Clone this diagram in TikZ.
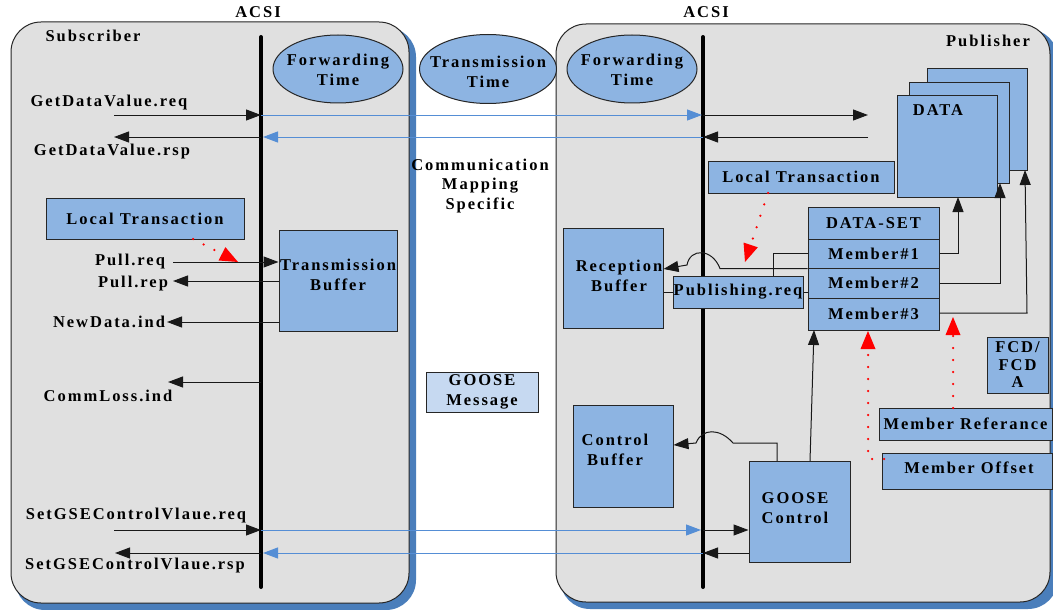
\documentclass[tikz,border=0pt]{standalone}
\usepackage{fontspec}
\setmainfont{Liberation Serif}[LetterSpace=12]
\usetikzlibrary{arrows.meta,shapes.geometric}
\definecolor{panelgray}{RGB}{224,224,224}
\definecolor{boxblue}{RGB}{141,180,226}
\definecolor{lightbox}{RGB}{198,217,241}
\definecolor{lineblue}{RGB}{85,142,213}
\definecolor{shadowblue}{RGB}{74,126,187}
\tikzset{
  panel/.style={draw=black!85, line width=1pt, fill=panelgray, rounded corners=30pt},
  shadowp/.style={fill=shadowblue, rounded corners=30pt},
  box/.style={draw=black!85, line width=1pt, fill=boxblue, inner sep=0pt, align=center},
  ell/.style={ellipse, draw=black!85, line width=1pt, fill=boxblue, inner sep=0pt},
  lbl/.style={inner sep=0pt, align=center},
  bus/.style={line width=4pt, line cap=round},
  arr/.style={line width=1pt, draw=black!90, -{Triangle[length=15pt,width=11pt]}},
  barr/.style={line width=1pt, draw=lineblue, -{Triangle[length=15pt,width=11pt]}},
  reddot/.style={draw=red, line width=2.5pt, line cap=round, dash pattern=on 0pt off 12pt, -{Triangle[length=18pt,width=15pt,fill=red,line width=0pt]}},
  ln/.style={line width=1pt, draw=black!90}
}
\newcommand\dfs{\fontsize{16.5}{19.5}\selectfont}
\begin{document}
\begin{tikzpicture}[x=1pt,y=-1pt,font=\bfseries\dfs]
\useasboundingbox (0,0) rectangle (1053,610);
% panels
\fill[shadowp] (15,27) rectangle (416,610);
\draw[panel] (11,22) rectangle (409,603);
\fill[shadowp] (560,29) rectangle (1058,609);
\draw[panel] (556,24) rectangle (1050,602);
% titles
\node[lbl] (acsi1) at (258,12) {ACSI};
\node[lbl] (acsi2) at (706,12) {ACSI};
\node[lbl] (sub) at (93,36) {Subscriber};
\node[lbl] (pub) at (988,41) {Publisher};
% buses
\coordinate (lt) at (261,37); \coordinate (lb) at (261,587);
\coordinate (rt) at (703,37); \coordinate (rbt) at (703,587);
\draw[bus] (lt) -- (lb);
\draw[bus] (rt) -- (rbt);
% ellipses
\node[ell, minimum width=130pt, minimum height=68pt] (ft1) at (338,69) {};
\node[lbl] (ft1t) at (338,70) {Forwarding\\Time};
\node[ell, minimum width=137pt, minimum height=69pt] (tt) at (488,69) {};
\node[lbl] (ttt) at (488,72) {Transmission\\Time};
\node[ell, minimum width=130pt, minimum height=68pt] (ft2) at (632,69) {};
\node[lbl] (ft2t) at (632,70) {Forwarding\\Time};
\node[lbl] (cms) at (480,186) {Communication\\Mapping\\Specific};
% left labels
\node[lbl] (gdvreq) at (109,103) {GetDataValue.req};
\node[lbl] (gdvrsp) at (112,152) {GetDataValue.rsp};
\node[lbl] (pullreq) at (130,262) {Pull.req};
\node[lbl] (pullrep) at (133,284) {Pull.rep};
\node[lbl] (newdata) at (109,322) {NewData.ind};
\node[lbl] (commloss) at (108,396) {CommLoss.ind};
\node[lbl] (sgreq) at (136,516) {SetGSEControlVlaue.req};
\node[lbl] (sgrsp) at (135,566) {SetGSEControlVlaue.rsp};
% left boxes
\node[box, minimum width=198pt, minimum height=41pt] (ltl) at (145,218.5) {Local Transaction};
\node[box, minimum width=118pt, minimum height=101pt] (tb) at (338,280.5) {};
\node[lbl] (tbt) at (338,275) {Transmission\\Buffer};
\node[box, fill=lightbox, minimum width=112pt, minimum height=40pt] (gm) at (482,392) {GOOSE\\Message};
% right boxes
\node[box, minimum width=100pt, minimum height=100pt] (rb) at (613,278) {};
\node[lbl] (rbtx) at (619,276) {Reception\\Buffer};
\node[box, minimum width=130pt, minimum height=32pt] (pr) at (738,292) {Publishing.req};
\node[box, minimum width=186pt, minimum height=32pt] (rlt) at (801,177) {Local Transaction};
\node[box, minimum width=131pt, minimum height=32pt] (dsh) at (873.5,223) {DATA-SET};
\node[box, minimum width=131pt, minimum height=29pt] (m1) at (873.5,253.5) {Member\#1};
\node[box, minimum width=131pt, minimum height=30pt] (m2) at (873.5,283) {Member\#2};
\node[box, minimum width=131pt, minimum height=32pt] (m3) at (873.5,314) {Member\#3};
\node[box, minimum width=100pt, minimum height=101pt] (d3) at (977,119.5) {};
\node[box, minimum width=100pt, minimum height=100pt] (d2) at (959,133) {};
\node[box, minimum width=100pt, minimum height=101pt] (d1) at (947,146.5) {};
\node[lbl] (dtxt) at (938,110) {DATA};
\node[box, minimum width=100pt, minimum height=102pt] (cb) at (623,456) {};
\node[lbl] (cbt) at (615,450) {Control\\Buffer};
\node[box, minimum width=101pt, minimum height=101pt] (gc) at (799.5,511.5) {};
\node[lbl] (gct) at (795,508) {GOOSE\\Control};
\node[box, minimum width=61pt, minimum height=56pt] (fcd) at (1017.5,365) {FCD/\\[-2pt]FCD\\[-2pt]A};
\node[box, minimum width=173pt, minimum height=32pt] (mr) at (965.5,424) {Member Referance};
\node[box, minimum width=170pt, minimum height=36pt] (mo) at (967,471) {};
\node[lbl] (mot) at (969,468) {Member Offset};
% GetDataValue arrows
\coordinate (a1) at (114,115); \coordinate (a2) at (261,115); \coordinate (a3) at (702,115); \coordinate (a4) at (703,115); \coordinate (a5) at (868,115);
\draw[arr] (a1) -- (a2);
\draw[barr] (a2) -- (a3);
\draw[arr] (a4) -- (a5);
\coordinate (b1) at (868,137); \coordinate (b2) at (703,137); \coordinate (b3) at (263,137); \coordinate (b4) at (261,137); \coordinate (b5) at (114,137);
\draw[arr] (b1) -- (b2);
\draw[barr] (b2) -- (b3);
\draw[arr] (b4) -- (b5);
% pull / newdata / commloss
\draw[arr] (173,262) -- (tb.west |- 0,262);
\draw[arr] (tb.west |- 0,281) -- (173,281);
\draw[arr] (tb.west |- 0,322) -- (167,322);
\coordinate (cl) at (261,382);
\draw[arr] (cl) -- (168,382);
% SetGSE arrows
\coordinate (c1) at (114,530); \coordinate (c2) at (261,530); \coordinate (c3) at (701,530); \coordinate (c4) at (703,530);
\draw[arr] (c1) -- (c2);
\draw[barr] (c2) -- (c3);
\draw[arr] (c4) -- (gc.west |- c4);
\coordinate (e2) at (703,553); \coordinate (e3) at (263,553); \coordinate (e4) at (261,553); \coordinate (e5) at (115,553);
\draw[arr] (gc.west |- e2) -- (e2);
\draw[barr] (e2) -- (e3);
\draw[arr] (e4) -- (e5);
% publisher connections
\draw[ln] (rb.east |- pr.west) -- (pr.west);
\draw[ln] (pr.east) -- (m2.west |- pr.east);
\draw[ln] (773,276) |- (m1.west);
\draw[arr] (m1.south west) -- (720,268.5) .. controls (712,248) and (690,248) .. (687,265) -- (rb.east |- 0,269);
\draw[arr] (777,461) -- (777,443) -- (733,443) .. controls (720,428) and (702,428) .. (696,443) -- (cb.east |- 0,445);
\draw[arr] (810,461) -- (814,330);
\draw[arr] (m1.east) -| (958,197);
\draw[arr] (m2.east) -| (1000,183);
\draw[arr] (m3.east |- 0,313) -- (1027,313) -- (1025,170);
% red dotted
\draw[reddot] (193,239) -- (238,262);
\draw[reddot] (768,193) -- (745,262);
\draw[reddot] (884,459) -| (868,331);
\draw[reddot] (953,408) -- (953,317);
\end{tikzpicture}
\end{document}
